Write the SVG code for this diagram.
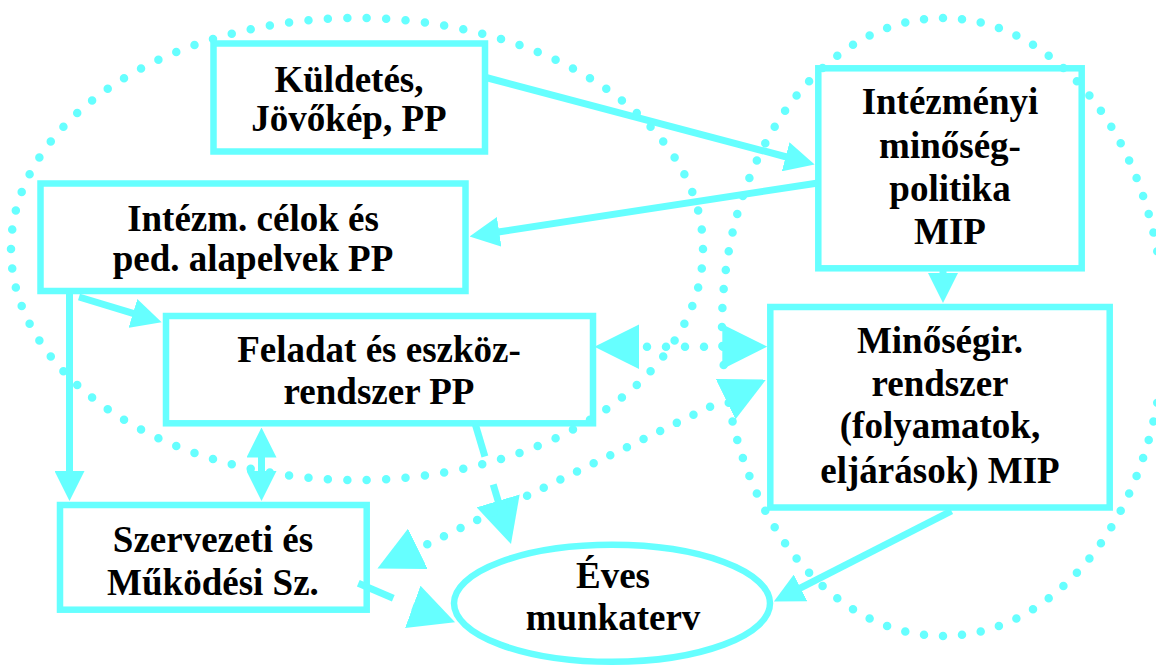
<svg xmlns="http://www.w3.org/2000/svg" width="1156" height="668" viewBox="0 0 1156 668">
<style>
.box{fill:#ffffff;stroke:#66ffff;stroke-width:6.5}
.lbl{font-weight:700;font-size:37px;fill:#000000;text-anchor:middle}
.ln{fill:none;stroke:#66ffff;stroke-width:7}
.hd{fill:none;stroke:none}
.dot{fill:none;stroke:#66ffff;stroke-width:8.5;stroke-linecap:round}
</style>
<defs>
<marker id="a" markerUnits="userSpaceOnUse" viewBox="0 0 30 30" markerWidth="30" markerHeight="30" refX="1" refY="15" orient="auto-start-reverse"><path d="M0,0 L30,15 L0,30 z" fill="#66ffff"/></marker>
<marker id="b" markerUnits="userSpaceOnUse" viewBox="0 0 45 45" markerWidth="45" markerHeight="45" refX="1" refY="22.5" orient="auto-start-reverse"><path d="M0,0 L45,22.5 L0,45 z" fill="#66ffff"/></marker>
</defs>
<g font-family="Liberation Serif, Times New Roman, DejaVu Serif, serif">
<g id="kuldetes"><rect class="box" x="213.5" y="43.5" width="271.5" height="108"/><text class="lbl" x="349" y="91.5">Küldetés,</text><text class="lbl" x="349" y="131">Jövőkép, PP</text></g>
<g id="celok"><rect class="box" x="40.5" y="183.5" width="425" height="107.5"/><text class="lbl" x="253" y="231">Intézm. célok és</text><text class="lbl" x="253" y="271">ped. alapelvek PP</text></g>
<g id="mip"><rect class="box" x="818.3" y="68.3" width="263.4" height="200"/><text class="lbl" x="950" y="114">Intézményi</text><text class="lbl" x="950" y="157.5">minőség-</text><text class="lbl" x="950" y="200.5">politika</text><text class="lbl" x="950" y="244.3">MIP</text></g>
<g id="feladat"><rect class="box" x="166" y="316" width="427" height="107.3"/><text class="lbl" x="379" y="361.7">Feladat és eszköz-</text><text class="lbl" x="379" y="404.3">rendszer PP</text></g>
<g id="minosegir"><rect class="box" x="770.3" y="307" width="339.4" height="200.5"/><text class="lbl" x="940" y="353.3">Minőségir.</text><text class="lbl" x="940" y="396">rendszer</text><text class="lbl" x="940" y="438.3">(folyamatok,</text><text class="lbl" x="940" y="482.7">eljárások) MIP</text></g>
<g id="szmsz"><rect class="box" x="60" y="505" width="306.7" height="104.7"/><text class="lbl" x="213" y="551.7">Szervezeti és</text><text class="lbl" x="213" y="595">Működési Sz.</text></g>
<g id="eves"><ellipse class="box" cx="612" cy="603.3" rx="158" ry="58.5"/><text class="lbl" x="613" y="588.3">Éves</text><text class="lbl" x="613" y="630">munkaterv</text></g>
</g>
<g id="groupings">
<ellipse class="dot" cx="357" cy="249" rx="346" ry="231" pathLength="94" stroke-dasharray="0 1"/>
<ellipse class="dot" cx="943" cy="327" rx="221" ry="309" pathLength="88" stroke-dasharray="0 1"/>
</g>
<g id="connectors">
<path class="ln" d="M486,77.5 L786.6,157" marker-end="url(#a)"/>
<path class="ln" d="M818,183 L498.2,232" marker-end="url(#a)"/>
<path class="ln" d="M943,268 L943,274" marker-end="url(#a)"/>
<path class="ln" d="M79,297 L133.9,313.7" marker-end="url(#a)"/>
<path class="ln" d="M69.5,294 L69.5,472" marker-end="url(#a)"/>
<path class="ln" d="M261.5,456.5 L261.5,472" marker-start="url(#a)" marker-end="url(#a)"/>
<path class="ln" d="M475.5,425 L484.9,456.6"/>
<path class="ln" d="M493.2,484.4 L498.4,501.8" marker-end="url(#b)"/>
<path class="ln" d="M358.3,583.3 L393.3,598.3"/>
<path class="ln" d="M412.6,606.8 L413.7,607.2" marker-end="url(#b)"/>
<path class="ln" d="M951.5,511 L799.7,588.4" marker-end="url(#a)"/>
<path class="dot" d="M647,346.7 L723.3,346.7" stroke-dasharray="0 19"/>
<path class="hd" d="M638.4,346.7 L723.3,346.7" marker-start="url(#b)" marker-end="url(#b)"/>
<path class="dot" d="M427.3,544.3 L726.5,398.7" stroke-dasharray="0 18.5"/>
<path class="hd" d="M417,549.3 L726.5,398.7" marker-start="url(#b)" marker-end="url(#b)"/>
</g>
</svg>
